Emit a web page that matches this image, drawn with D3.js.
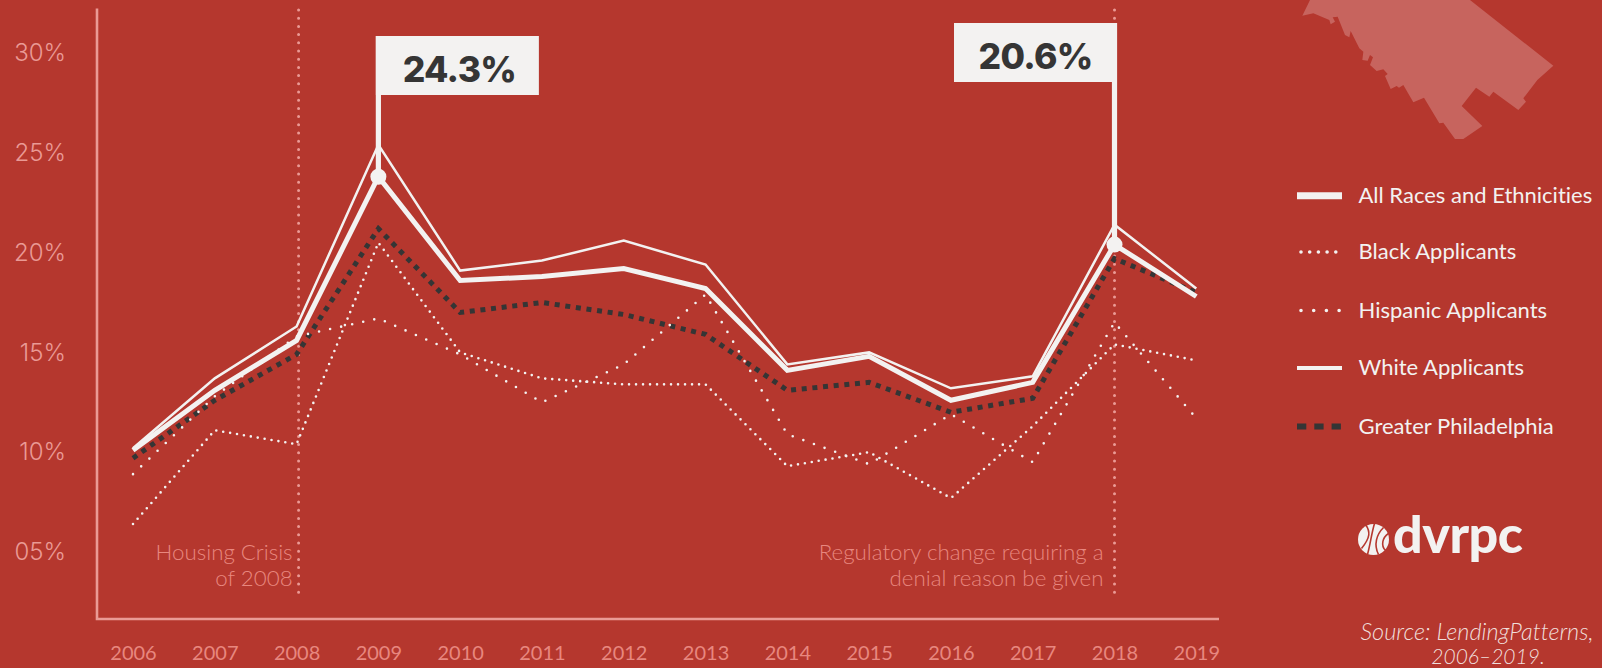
<!DOCTYPE html>
<html>
<head>
<meta charset="utf-8">
<title>Mortgage denial rates</title>
<script src="https://cdn.jsdelivr.net/npm/d3@7"></script>
<style>
  html, body { margin: 0; padding: 0; background: #b5372e; overflow: hidden; }
  svg { display: block; }
  text { font-family: Lato, sans-serif; font-variant-ligatures: none; }
</style>
</head>
<body>
<div id="chart"></div>
<script>
// data
const years = [2006,2007,2008,2009,2010,2011,2012,2013,2014,2015,2016,2017,2018,2019];
const allRaces = [10.1,13.1,15.6,23.8,18.6,18.8,19.2,18.2,14.1,14.8,12.6,13.5,20.4,17.8];
const white = [10.2,13.7,16.3,25.4,19.1,19.6,20.6,19.4,14.4,15.0,13.2,13.8,21.4,18.2];
const black = [6.4,11.1,10.4,20.5,15.0,13.7,13.4,13.4,9.3,10.0,7.7,11.3,15.4,14.6];
const hispanic = [8.9,12.8,15.8,16.7,14.9,12.5,14.4,17.9,10.9,9.4,11.9,9.5,16.5,11.7];
const greaterPhila = [9.7,12.6,14.9,21.2,17.0,17.5,16.9,15.9,13.1,13.5,12.0,12.7,19.7,18.0];
const yTicks = [5,10,15,20,25,30];
const legendLabels = ["All Races and Ethnicities","Black Applicants","Hispanic Applicants","White Applicants","Greater Philadelphia"];

// outline of the region in the top right corner
const mapOutline = [[330,0],[307,47],[340,40],[388,60],[392,73],[405,65],[398,52],[413,50],[435,105],[448,112],[452,93],
  [478,145],[490,155],[487,180],[503,182],[510,165],[519,172],[510,195],[530,213],[550,208],[563,222],[555,228],[572,267],
  [590,258],[597,263],[610,255],[640,307],[672,293],[718,370],[730,368],[765,417],[790,417],[847,378],[785,318],[828,263],
  [868,290],[880,275],[955,330],[978,305],[970,295],[1012,240],[1060,197],[810,0]];

const w = 1602, h = 668;
const bg = "#b5372e", offWhite = "#f3f2f1", dark = "#353535", axisPink = "#ea9a95", textPink = "#e8877f";

const svg = d3.select("#chart").append("svg")
  .attr("width", w)
  .attr("height", h);

let x = d3.scalePoint().domain(years).range([133, 1196.3]);
let y = d3.scaleLinear().domain([5, 30]).range([552, 53]);

// map
let mapX = d3.scaleLinear().domain([0, 1206]).range([1200, 1602]);
let mapY = d3.scaleLinear().domain([0, 660]).range([0, 220]);
svg.append("path")
  .attr("d", d3.line().x(d => mapX(d[0])).y(d => mapY(d[1])).curve(d3.curveLinearClosed)(mapOutline))
  .attr("fill", "#c7645e");

// axes
svg.append("path")
  .attr("d", "M97,8.5V619H1219")
  .attr("fill", "none")
  .attr("stroke", axisPink)
  .attr("stroke-width", 2.6);

let yAxis = d3.axisLeft(y).tickValues(yTicks).tickSize(0).tickPadding(0)
  .tickFormat(d => d3.format("02d")(d) + "%");
let yG = svg.append("g").attr("transform", "translate(66,0)").call(yAxis);
yG.select(".domain").remove();
yG.selectAll("text").attr("fill", axisPink).style("font-family", "Inter").style("font-size", "24px").style("font-weight", 300);

let xAxis = d3.axisBottom(x).tickSize(0).tickPadding(0).tickFormat(d3.format("d"));
let xG = svg.append("g").attr("transform", "translate(0,646)").call(xAxis);
xG.select(".domain").remove();
xG.selectAll("text").attr("fill", textPink).style("font-size", "20px");

// event lines
[[2008, 2], [2018, 0]].forEach(e => {
  svg.append("line")
    .attr("x1", x(e[0]) + e[1]).attr("x2", x(e[0]) + e[1])
    .attr("y1", 10).attr("y2", 593)
    .attr("stroke", axisPink)
    .attr("stroke-width", 3)
    .attr("stroke-linecap", "round")
    .attr("stroke-dasharray", "0 8.2");
});

function note(xr, lines) {
  lines.forEach((t, i) => {
    svg.append("text")
      .attr("x", xr).attr("y", 560 + i * 26)
      .attr("text-anchor", "end")
      .attr("fill", textPink)
      .style("font-size", "22.3px")
      .style("font-weight", 300)
      .text(t);
  });
}
note(x(2008) - 4, ["Housing Crisis", "of 2008"]);
note(x(2018) - 11, ["Regulatory change requiring a", "denial reason be given"]);

// series
let line = d3.line().x((d, i) => x(years[i])).y(d => y(d));

function drawLine(values, width, color, dash, cap) {
  svg.append("path")
    .datum(values)
    .attr("d", line)
    .attr("fill", "none")
    .attr("stroke", color)
    .attr("stroke-width", width)
    .attr("stroke-linejoin", "miter")
    .attr("stroke-linecap", cap || "butt")
    .attr("stroke-dasharray", dash || null);
}
drawLine(greaterPhila, 5, dark, "5 5.7");
drawLine(black, 2.6, offWhite, "0 7", "round");
drawLine(hispanic, 2.6, offWhite, "0 11.3", "round");
drawLine(white, 2.5, offWhite);
drawLine(allRaces, 5, offWhite);

// callouts
function callout(year, label, boxLeft, boxTop, nudge) {
  let v = allRaces[years.indexOf(year)];
  let cx = x(year);
  svg.append("line")
    .attr("x1", cx).attr("x2", cx)
    .attr("y1", boxTop).attr("y2", y(v))
    .attr("stroke", offWhite).attr("stroke-width", 5.2);
  svg.append("circle")
    .attr("cx", cx).attr("cy", y(v)).attr("r", 8)
    .attr("fill", offWhite);
  svg.append("rect")
    .attr("x", cx + boxLeft).attr("y", boxTop)
    .attr("width", 163).attr("height", 59)
    .attr("fill", offWhite);
  svg.append("text")
    .attr("x", cx + boxLeft + 81.5 + nudge).attr("y", boxTop + 46)
    .attr("text-anchor", "middle")
    .attr("fill", dark)
    .style("font-family", "Inter")
    .style("font-size", "35.5px")
    .style("font-weight", 800)
    .style("letter-spacing", "-0.7px")
    .text(label);
}
callout(2009, "24.3%", -2.5, 36, 2);
callout(2018, "20.6%", -160.5, 23, 0);

// legend
const legendY = [195.7, 252, 310.5, 368, 426.5];
const legendStyles = [
  {width: 7, color: offWhite},
  {width: 3.6, color: offWhite, dash: "0 8.7", cap: "round"},
  {width: 3.6, color: offWhite, dash: "0 12.7", cap: "round"},
  {width: 4, color: offWhite},
  {width: 6, color: dark, dash: "9.3 8"}
];
legendLabels.forEach((t, i) => {
  let s = legendStyles[i];
  let dotted = s.cap === "round";
  svg.append("line")
    .attr("x1", dotted ? 1301 : 1297).attr("x2", 1342)
    .attr("y1", legendY[i]).attr("y2", legendY[i])
    .attr("stroke", s.color)
    .attr("stroke-width", s.width)
    .attr("stroke-linecap", s.cap || "butt")
    .attr("stroke-dasharray", s.dash || null);
  svg.append("text")
    .attr("x", 1358.5).attr("y", legendY[i] + 7)
    .attr("fill", offWhite)
    .style("font-size", "22px")
    .text(t);
});

// logo
let logo = svg.append("g").attr("transform", "translate(1373.5,539.5)");
logo.append("circle").attr("r", 15.5).attr("fill", offWhite);
["M-8,-15C-3,-8 -3,-2 -12,9", "M1,-16C-2,-6 -3,4 -6,15", "M10,-12C3,-5 0,5 5,15", "M15,-6C9,-2 7,6 12,11"].forEach(d => {
  logo.append("path").attr("d", d).attr("fill", "none").attr("stroke", bg).attr("stroke-width", 1.6);
});
svg.append("text")
  .attr("x", 1393).attr("y", 552.7)
  .attr("fill", offWhite)
  .style("font-size", "52px")
  .style("font-weight", 900)
  .style("letter-spacing", "-0.5px")
  .text("dvrpc");

// source
[["Source: LendingPatterns,", 1477, 640, 23.5], ["2006–2019.", 1488, 664, 21]].forEach(r => {
  svg.append("text")
    .attr("x", r[1]).attr("y", r[2])
    .attr("text-anchor", "middle")
    .attr("fill", "#f0dedb")
    .style("font-size", r[3] + "px")
    .style("font-style", "italic")
    .style("font-weight", 300)
    .text(r[0]);
});
</script>
</body>
</html>
